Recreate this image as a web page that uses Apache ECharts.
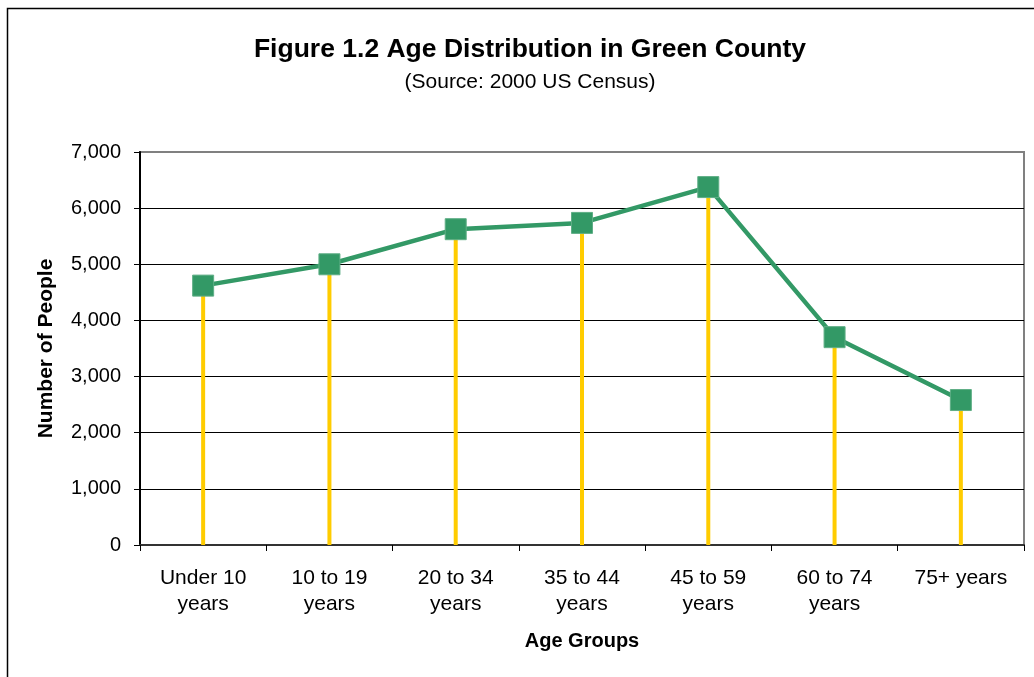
<!DOCTYPE html>
<html>
<head>
<meta charset="utf-8">
<script src="https://cdn.jsdelivr.net/npm/echarts@6/dist/echarts.min.js"></script>
<style>
  html, body { margin: 0; padding: 0; background: #fff; }
  #chart { width: 1034px; height: 677px; }
</style>
</head>
<body>
<div id="chart"></div>
<script>
// Age groups and population counts (2000 US Census, Green County)
const ageGroups = ['Under 10\nyears', '10 to 19\nyears', '20 to 34\nyears', '35 to 44\nyears', '45 to 59\nyears', '60 to 74\nyears', '75+ years'];
const people = [4620, 5000, 5625, 5737, 6375, 3702, 2582];
const yTicks = { min: 0, max: 7000, interval: 1000 };

const font = 'Liberation Sans, Arial, sans-serif';
const chart = echarts.init(document.getElementById('chart'), null, { renderer: 'canvas' });

chart.setOption({
  animation: false,
  backgroundColor: '#ffffff',
  graphic: [{
    // outer chart frame
    type: 'rect',
    shape: { x: 7.5, y: 8.5, width: 1200, height: 800 },
    style: { fill: 'none', stroke: '#000', lineWidth: 1.5 },
    silent: true
  }],
  title: [{
    text: 'Figure 1.2 Age Distribution in Green County',
    left: 525, top: 31, textAlign: 'center',
    textStyle: { fontFamily: font, fontSize: 26.5, fontWeight: 'bold', color: '#000' }
  }, {
    text: '(Source: 2000 US Census)',
    left: 525, top: 67, textAlign: 'center',
    textStyle: { fontFamily: font, fontSize: 21, fontWeight: 'normal', color: '#000' }
  }],
  grid: {
    left: 140, right: 10, top: 152, bottom: 132,
    show: true, borderColor: '#808080', borderWidth: 2, backgroundColor: 'transparent'
  },
  xAxis: {
    type: 'category',
    data: ageGroups,
    boundaryGap: true,
    name: 'Age Groups',
    nameLocation: 'middle',
    nameGap: 86,
    nameTextStyle: { fontFamily: font, fontSize: 20, fontWeight: 'bold', color: '#000' },
    axisLine: { lineStyle: { color: '#333', width: 2 } },
    axisTick: { show: true, alignWithLabel: false, length: 6, lineStyle: { color: '#000', width: 1 } },
    axisLabel: { fontFamily: font, fontSize: 21, color: '#000', margin: 20, lineHeight: 26, interval: 0 },
    splitLine: { show: false }
  },
  yAxis: {
    type: 'value',
    min: yTicks.min, max: yTicks.max, interval: yTicks.interval,
    name: 'Number of People',
    nameLocation: 'middle',
    nameGap: 83,
    nameRotate: 90,
    nameTextStyle: { fontFamily: font, fontSize: 21, fontWeight: 'bold', color: '#000' },
    axisLine: { show: true, lineStyle: { color: '#000', width: 2 } },
    axisTick: { show: true, length: 6, lineStyle: { color: '#000', width: 1 } },
    axisLabel: {
      fontFamily: font, fontSize: 20, color: '#000', margin: 19,
      formatter: v => v.toLocaleString('en-US')
    },
    splitLine: { show: true, showMaxLine: false, lineStyle: { color: '#000', width: 1 } }
  },
  series: [{
    // yellow drop lines from each point down to zero
    type: 'bar',
    data: people,
    barWidth: 4,
    itemStyle: { color: '#FFCC00' },
    z: 2
  }, {
    type: 'line',
    data: people,
    symbol: 'rect',
    symbolSize: 21,
    lineStyle: { color: '#339966', width: 4.5 },
    itemStyle: { color: '#339966', borderColor: '#5fae86', borderWidth: 1 },
    z: 3
  }]
});
</script>
</body>
</html>
